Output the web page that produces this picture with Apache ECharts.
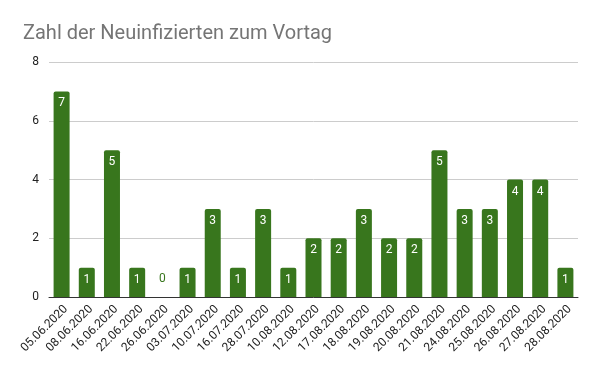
<!DOCTYPE html>
<html><head><meta charset="utf-8">
<script src="https://cdn.jsdelivr.net/npm/echarts@6/dist/echarts.min.js"></script>
<style>html,body{margin:0;padding:0;background:#fff}#c{width:600px;height:371px}</style>
</head><body><div id="c"></div>
<script>
const categories = ["05.06.2020","08.06.2020","16.06.2020","22.06.2020","26.06.2020","03.07.2020","10.07.2020","16.07.2020","28.07.2020","10.08.2020","12.08.2020","17.08.2020","18.08.2020","19.08.2020","20.08.2020","21.08.2020","24.08.2020","25.08.2020","26.08.2020","27.08.2020","28.08.2020"];
const values = [7,1,5,1,0,1,3,1,3,1,2,2,3,2,2,5,3,3,4,4,1];
const yTicks = [0,2,4,6,8];

const green = '#38761d';
const chart = echarts.init(document.getElementById('c'), null, {renderer:'canvas'});
chart.setOption({
  animation:false,
  backgroundColor:'#fff',
  title:{text:'Zahl der Neuinfizierten zum Vortag', left:18, top:19,
    textStyle:{fontFamily:'Roboto', fontSize:20, fontWeight:'normal', color:'#757575'}},
  grid:{left:49, right:22, top:62, bottom:74, containLabel:false},
  xAxis:{type:'category', data:categories,
    axisLine:{lineStyle:{color:'#333', width:1}}, axisTick:{show:false},
    axisLabel:{rotate:45, interval:0, margin:6, verticalAlign:'top', fontFamily:'Roboto', fontSize:12, color:'#222'}},
  yAxis:{type:'value', min:yTicks[0], max:yTicks[yTicks.length-1], interval:2,
    axisLine:{show:false}, axisTick:{show:false},
    splitLine:{lineStyle:{color:'#cccccc'}},
    axisLabel:{margin:10, fontFamily:'Roboto', fontSize:12, color:'#222'}},
  series:[{type:'bar', barWidth:16,
    itemStyle:{color:green, borderRadius:[2,2,0,0]},
    label:{show:true, position:'insideTop', distance:6, color:'#fff', fontFamily:'Roboto', fontSize:12},
    data: values.map(v => v === 0
      ? {value:v, label:{position:'top', distance:12, color:green}}
      : v)
  }]
});
</script></body></html>
